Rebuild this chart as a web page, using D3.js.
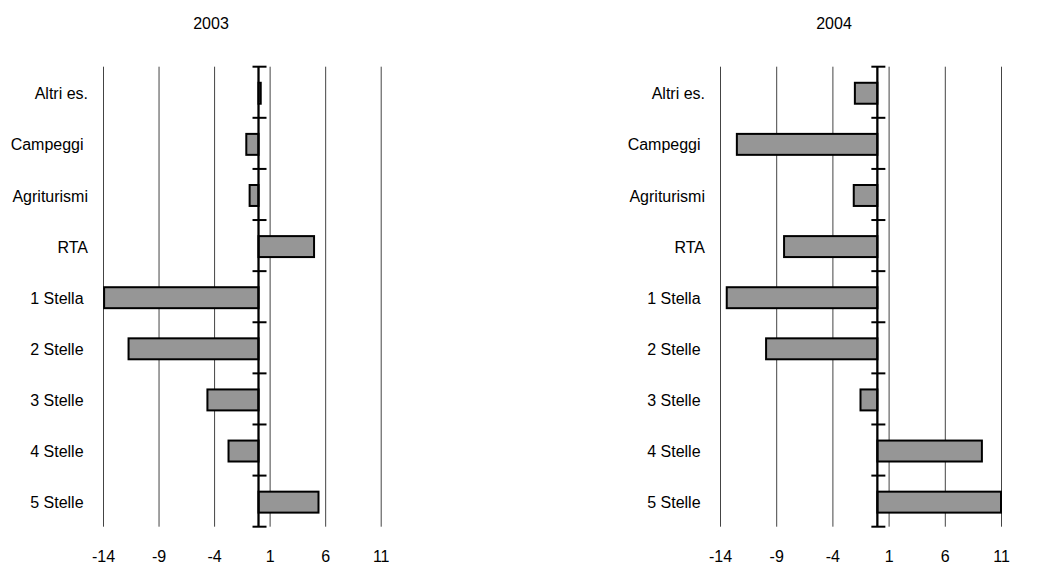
<!DOCTYPE html>
<html>
<head>
<meta charset="utf-8">
<script src="https://cdn.jsdelivr.net/npm/d3@7"></script>
<style>
  body { margin: 0; background: #fff; }
  svg text { font-family: "Liberation Sans", Arial, sans-serif; fill: #000; white-space: pre; }
</style>
</head>
<body>
<div id="chart"></div>
<script>
// categories as in the original sheet (some carry a trailing space)
var categories = ["Altri es.", "Campeggi ", "Agriturismi", "RTA", "1 Stella ", "2 Stelle ", "3 Stelle ", "4 Stelle ", "5 Stelle "];
var values2003 = [0.2, -1.1, -0.8, 5.0, -13.9, -11.7, -4.6, -2.7, 5.4];
var values2004 = [-2.0, -12.5, -2.1, -8.3, -13.4, -9.9, -1.5, 9.3, 11.0];
var xTicks = [-14, -9, -4, 1, 6, 11];
var years = ["2003", "2004"];

var width = 1052,
    height = 582,
    plotTop = 66.7,
    plotBottom = 526.7,
    fontSize = "16px";

var svg = d3.select("#chart")
    .append("svg")
    .attr("width", width)
    .attr("height", height);

var drawPanel = (year, values, left, right, titleX) => {
    var x = d3.scaleLinear().domain([-14, 11]).range([left, right]);
    var y = d3.scaleBand().domain(categories).range([plotTop, plotBottom]).padding(0);

    var g = svg.append("g");

    // title
    g.append("text")
        .attr("x", titleX)
        .attr("y", 28.5)
        .attr("text-anchor", "middle")
        .style("font-size", fontSize)
        .text(year);

    // vertical gridlines
    g.append("g")
        .attr("class", "grid")
        .attr("transform", `translate(0,${plotBottom})`)
        .call(d3.axisBottom(x).tickValues(xTicks).tickSize(-(plotBottom - plotTop)).tickFormat(""))
        .call(s => s.select(".domain").remove())
        .call(s => s.selectAll("line").attr("stroke", "#444").attr("stroke-width", 1));

    // x tick labels
    g.append("g")
        .attr("class", "x axis")
        .attr("transform", `translate(0,${plotBottom + 23.5})`)
        .call(d3.axisBottom(x).tickValues(xTicks).tickSize(0).tickPadding(0).tickFormat(d => String(d)))
        .call(s => s.select(".domain").remove())
        .call(s => s.selectAll("text")
            .attr("dy", "0.71em")
            .style("font-size", fontSize)
            .style("font-family", '"Liberation Sans", Arial, sans-serif'));

    // bars
    var barH = y.bandwidth() * 0.41;
    g.selectAll(".bar")
        .data(values.map((v, i) => ({name: categories[i], value: v})))
        .enter().append("rect")
        .attr("class", "bar")
        .attr("x", d => x(Math.min(0, d.value)))
        .attr("y", d => y(d.name) + y.bandwidth() / 2 - barH / 2 + 1)
        .attr("width", d => Math.abs(x(d.value) - x(0)))
        .attr("height", barH)
        .style("fill", "#969696")
        .style("stroke", "#000")
        .style("stroke-width", 2);

    // category labels
    g.append("g")
        .attr("class", "y axis")
        .attr("transform", `translate(${left - 15},2)`)
        .call(d3.axisLeft(y).tickSize(0).tickPadding(0))
        .call(s => s.select(".domain").remove())
        .call(s => s.selectAll("text")
            .style("font-size", fontSize)
            .style("font-family", '"Liberation Sans", Arial, sans-serif'));

    // zero axis with ticks on category boundaries
    g.append("line")
        .attr("x1", x(0)).attr("x2", x(0))
        .attr("y1", plotTop).attr("y2", plotBottom)
        .attr("stroke", "#000")
        .attr("stroke-width", 2.3);

    var bounds = categories.map(c => y(c)).concat([plotBottom]);
    g.selectAll(".ztick")
        .data(bounds)
        .enter().append("line")
        .attr("class", "ztick")
        .attr("x1", x(0) - 6).attr("x2", x(0) + 8)
        .attr("y1", d => d).attr("y2", d => d)
        .attr("stroke", "#000")
        .attr("stroke-width", 2);
};

drawPanel(years[0], values2003, 103, 380.7, 211);
drawPanel(years[1], values2004, 720, 1001, 834);
</script>
</body>
</html>
